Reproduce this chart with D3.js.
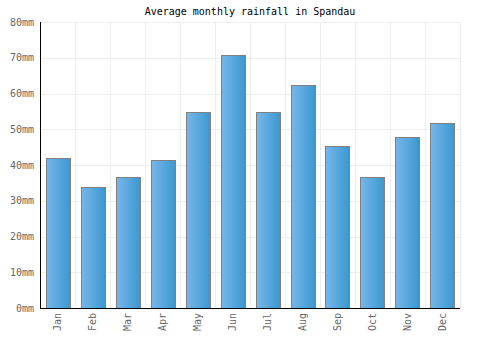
<!DOCTYPE html>
<html>
<head>
<meta charset="utf-8">
<script src="https://cdn.jsdelivr.net/npm/d3@7"></script>
<style>
  body { margin: 0; background: #fff; }
  text { font-family: "DejaVu Sans Mono", monospace; }
</style>
</head>
<body>
<div id="chart"></div>
<script>
const months = ["Jan", "Feb", "Mar", "Apr", "May", "Jun", "Jul", "Aug", "Sep", "Oct", "Nov", "Dec"];
const rainfall = [41.9, 33.8, 36.6, 41.3, 54.8, 70.9, 54.8, 62.3, 45.2, 36.6, 47.7, 51.7];
const yTicks = [0, 10, 20, 30, 40, 50, 60, 70, 80];

const width = 500, height = 350;
const margin = { top: 22, right: 40, bottom: 42, left: 40 };
const innerWidth = width - margin.left - margin.right;
const innerHeight = height - margin.top - margin.bottom;

const svg = d3.select("#chart")
    .append("svg")
    .attr("width", width)
    .attr("height", height);

// gradient for bars
const grad = svg.append("defs").append("linearGradient")
    .attr("id", "barGrad")
    .attr("x1", "0%").attr("x2", "100%").attr("y1", "0%").attr("y2", "0%");
grad.append("stop").attr("offset", "0%").attr("stop-color", "#78b6ea");
grad.append("stop").attr("offset", "100%").attr("stop-color", "#3a98cf");

const chart = svg.append("g")
    .attr("transform", `translate(${margin.left}, ${margin.top})`);

// scales
const x = d3.scaleBand()
    .domain(months)
    .range([0, innerWidth])
    .paddingInner(0.32)
    .paddingOuter(0.17);

const xGrid = d3.scaleLinear().domain([0, months.length]).range([0, innerWidth]);

const y = d3.scaleLinear()
    .domain([0, 80])
    .range([innerHeight, 0]);

// grid
chart.append("g")
    .selectAll("line")
    .data(yTicks.slice(1))
    .enter()
    .append("line")
    .attr("x1", 0).attr("x2", innerWidth)
    .attr("y1", d => Math.round(y(d)) + 0.5)
    .attr("y2", d => Math.round(y(d)) + 0.5)
    .attr("stroke", "#eeeeee");

chart.append("g")
    .selectAll("line")
    .data(d3.range(1, months.length + 1))
    .enter()
    .append("line")
    .attr("x1", d => Math.round(xGrid(d)) + 0.5)
    .attr("x2", d => Math.round(xGrid(d)) + 0.5)
    .attr("y1", 0).attr("y2", innerHeight)
    .attr("stroke", "#eeeeee");

// bars
chart.selectAll("rect.bar")
    .data(rainfall)
    .enter()
    .append("rect")
    .attr("class", "bar")
    .attr("x", (d, i) => Math.round(x(months[i])) + 0.5)
    .attr("y", d => Math.round(y(d)) + 0.5)
    .attr("width", Math.round(x.bandwidth()))
    .attr("height", d => innerHeight - Math.round(y(d)))
    .attr("fill", "url(#barGrad)")
    .attr("stroke", "#808080")
    .attr("stroke-width", 1);

// axes
const yAxis = chart.append("g")
    .call(d3.axisLeft(y).tickValues(yTicks).tickFormat(d => d + "mm").tickSize(0).tickPadding(6));
yAxis.select(".domain").remove();
yAxis.selectAll("text")
    .attr("fill", "#666")
    .style("font-size", "10px");

chart.append("line")
    .attr("x1", 0.5).attr("x2", 0.5)
    .attr("y1", 0).attr("y2", innerHeight)
    .attr("stroke", "#000");

chart.append("line")
    .attr("x1", 0).attr("x2", innerWidth)
    .attr("y1", innerHeight + 0.5).attr("y2", innerHeight + 0.5)
    .attr("stroke", "#000");

const xAxis = chart.append("g")
    .attr("transform", `translate(0, ${innerHeight})`)
    .call(d3.axisBottom(x).tickSize(0));
xAxis.select(".domain").remove();
xAxis.selectAll("text")
    .attr("fill", "#666")
    .style("font-size", "10px")
    .attr("text-anchor", "end")
    .attr("dy", "0.35em")
    .attr("transform", "rotate(-90) translate(-5, 0)")
    .attr("x", 0)
    .attr("y", 0);

// title
svg.append("text")
    .attr("x", width / 2)
    .attr("y", 15)
    .attr("text-anchor", "middle")
    .style("font-size", "10px")
    .attr("fill", "#000")
    .text("Average monthly rainfall in Spandau");
</script>
</body>
</html>
